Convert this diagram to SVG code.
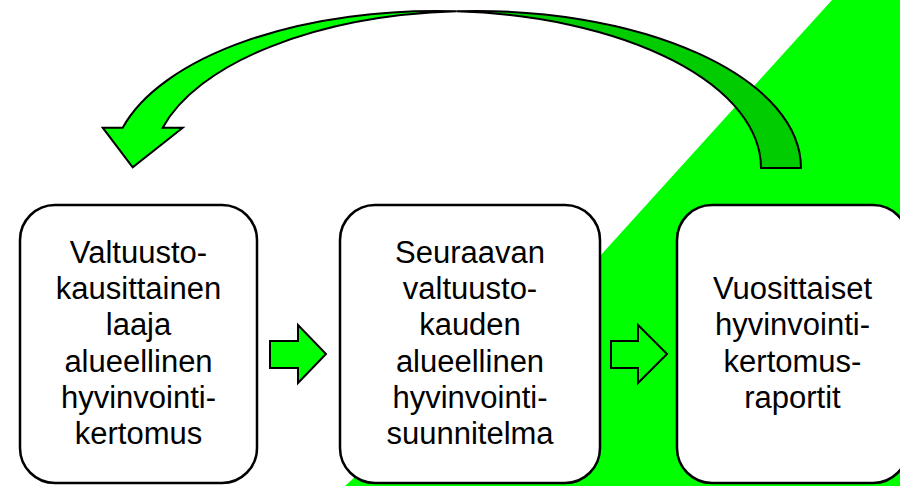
<svg xmlns="http://www.w3.org/2000/svg" width="900" height="486" viewBox="0 0 900 486">
<style>
.box{fill:#fff;stroke:#000;stroke-width:2.5}
.t{font-family:"Liberation Sans",Arial,sans-serif;font-size:31px;fill:#000;text-anchor:middle}
.g{fill:#00ff00;stroke:#000;stroke-width:2;stroke-linejoin:miter}
.gd{fill:#00cc00;stroke:#000;stroke-width:2}
</style>
<rect width="900" height="486" fill="#fff"/>
<polygon points="832,0 900,0 900,486 345,486 600,256" fill="#00ff00"/>
<g id="connectors">
<path class="gd" d="M456.4,11.3 A324.6,157 0 0 1 801,168 L761,168 A324.6,157 0 0 0 456.4,11.3 Z"/>
<path class="g" d="M122.7,127.7 A324.6,157 0 0 1 456.4,11.3 A324.6,157 0 0 0 162.7,127.7 L182.7,127.7 L132.7,167.3 L102.7,127.7 Z"/>
<polygon class="g" points="270,341 298,341 298,325 326,354 298,383 298,368 270,368"/>
<polygon class="g" points="611,341 638,341 638,325 667,354 638,383 638,368 611,368"/>
</g>
<g id="node1">
<rect class="box" x="20" y="205" width="237" height="278" rx="35"/>
<text class="t" x="138.5" y="263">Valtuusto-</text>
<text class="t" x="138.5" y="299">kausittainen</text>
<text class="t" x="138.5" y="335">laaja</text>
<text class="t" x="138.5" y="372">alueellinen</text>
<text class="t" x="138.5" y="408">hyvinvointi-</text>
<text class="t" x="138.5" y="444">kertomus</text>
</g>
<g id="node2">
<rect class="box" x="340" y="205" width="260" height="278" rx="35"/>
<text class="t" x="470" y="263">Seuraavan</text>
<text class="t" x="470" y="299">valtuusto-</text>
<text class="t" x="470" y="335">kauden</text>
<text class="t" x="470" y="372">alueellinen</text>
<text class="t" x="470" y="408">hyvinvointi-</text>
<text class="t" x="470" y="444">suunnitelma</text>
</g>
<g id="node3">
<rect class="box" x="677" y="205" width="231" height="278" rx="35"/>
<text class="t" x="792.5" y="299">Vuosittaiset</text>
<text class="t" x="792.5" y="335">hyvinvointi-</text>
<text class="t" x="792.5" y="372">kertomus-</text>
<text class="t" x="792.5" y="408">raportit</text>
</g>
</svg>
